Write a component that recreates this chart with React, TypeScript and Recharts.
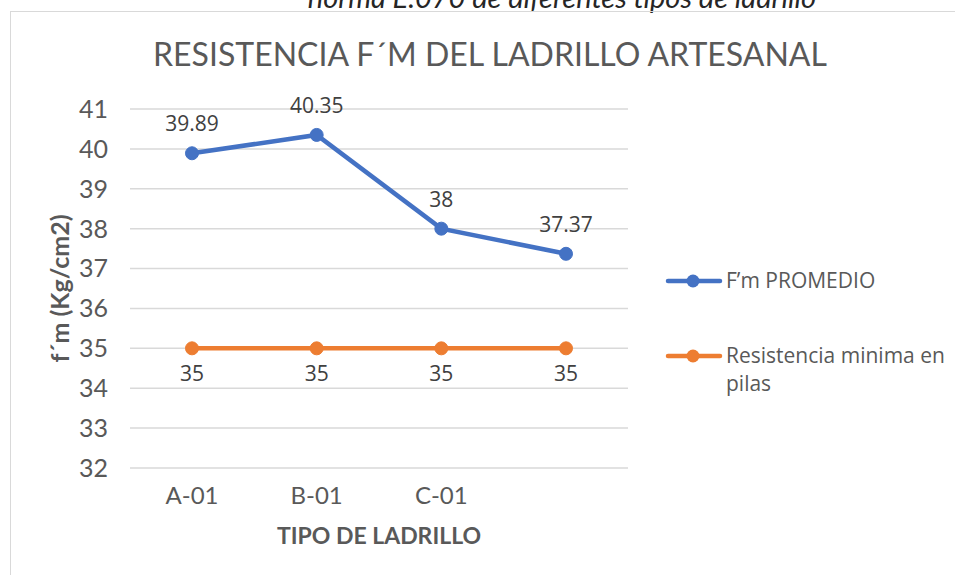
import { CartesianGrid, LabelList, Line, LineChart, XAxis, YAxis, Label } from 'recharts';

const tipos = ['A-01', 'B-01', 'C-01', ''];
const fmPromedio = [39.89, 40.35, 38, 37.37];
const resistenciaMinima = [35, 35, 35, 35];
const yTicks = [32, 33, 34, 35, 36, 37, 38, 39, 40, 41];

const data = tipos.map((tipo, i) => ({
  tipo,
  promedio: fmPromedio[i],
  minima: resistenciaMinima[i],
}));

const BLUE = '#4472C4';
const ORANGE = '#ED7D31';
const GRID = '#d9d9d9';
const TEXT = '#595959';
const narrow = 'Lato, "Open Sans", sans-serif';
const sans = '"Open Sans", "Noto Sans", sans-serif';

function LegendBox() {
  const items = [
    { color: BLUE, lines: ['F’m PROMEDIO'], y: 281 },
    { color: ORANGE, lines: ['Resistencia minima en', 'pilas'], y: 356 },
  ];
  return (
    <svg width={955} height={575} style={{ position: 'absolute', left: 0, top: 0, pointerEvents: 'none' }}>
      {items.map((item) => (
        <g key={item.lines[0]}>
          <line x1={668} x2={720} y1={item.y} y2={item.y} stroke={item.color} strokeWidth={4.5} strokeLinecap="round" />
          <circle cx={693} cy={item.y} r={6.5} fill={item.color} />
          {item.lines.map((text, i) => (
            <text key={text} x={726} y={item.y + 7 + i * 28} fill={TEXT} fontSize={21} fontFamily={sans}>
              {text}
            </text>
          ))}
        </g>
      ))}
    </svg>
  );
}

export default function App() {
  return (
    <div style={{ position: 'absolute', left: 0, top: 0, width: 955, height: 575, overflow: 'hidden', background: '#fff' }}>
      <div
        style={{
          position: 'absolute',
          left: 0,
          width: 1124,
          top: -21,
          textAlign: 'center',
          fontStyle: 'italic',
          fontFamily: narrow,
          fontSize: 29,
          color: '#262626',
          whiteSpace: 'nowrap',
        }}
      >
        norma E.070 de diferentes tipos de ladrillo
      </div>
      <div style={{ position: 'absolute', left: 10, top: 11, width: 1200, height: 1200, border: `1.5px solid ${GRID}` }} />
      <div
        style={{
          position: 'absolute',
          left: 0,
          width: 980,
          top: 34,
          textAlign: 'center',
          fontFamily: narrow,
          fontWeight: 400,
          fontSize: 32,
          color: TEXT,
          whiteSpace: 'nowrap',
        }}
      >
        RESISTENCIA F´M DEL LADRILLO ARTESANAL
      </div>
      <div style={{ position: 'absolute', left: 0, top: 0 }}>
        <LineChart width={955} height={575} data={data} margin={{ top: 109, right: 327, bottom: 67, left: 0 }}>
          <CartesianGrid stroke={GRID} strokeWidth={1.5} vertical={false} />
          <XAxis
            dataKey="tipo"
            axisLine={false}
            tickLine={false}
            tickMargin={13}
            height={40}
            padding={{ left: 62, right: 62 }}
            tick={{ fill: TEXT, fontSize: 24, fontFamily: narrow }}
            allowDuplicatedCategory
          >
            <Label
              value="TIPO DE LADRILLO"
              position="insideBottom"
              offset={-36}
              style={{ fill: TEXT, fontSize: 23, fontWeight: 700, fontFamily: narrow }}
            />
          </XAxis>
          <YAxis
            domain={[32, 41]}
            ticks={yTicks}
            interval={0}
            axisLine={false}
            tickLine={false}
            tickMargin={16}
            width={130}
            tick={{ fill: TEXT, fontSize: 25, fontFamily: narrow }}
          >
            <Label
              value="f´m (Kg/cm2)"
              angle={-90}
              position="insideLeft"
              offset={60}
              style={{ fill: TEXT, fontSize: 25, fontWeight: 700, fontFamily: narrow, textAnchor: 'middle' }}
            />
          </YAxis>
          <Line
            dataKey="promedio"
            stroke={BLUE}
            strokeWidth={4.5}
            dot={{ r: 6.5, fill: BLUE, stroke: BLUE, strokeWidth: 1 }}
            isAnimationActive={false}
          >
            <LabelList dataKey="promedio" position="top" offset={22} style={{ fill: '#404040', fontSize: 21, fontFamily: sans }} />
          </Line>
          <Line
            dataKey="minima"
            stroke={ORANGE}
            strokeWidth={4.5}
            dot={{ r: 6.5, fill: ORANGE, stroke: ORANGE, strokeWidth: 1 }}
            isAnimationActive={false}
          >
            <LabelList dataKey="minima" position="bottom" offset={18} style={{ fill: '#404040', fontSize: 21, fontFamily: sans }} />
          </Line>
        </LineChart>
      </div>
      <LegendBox />
    </div>
  );
}
